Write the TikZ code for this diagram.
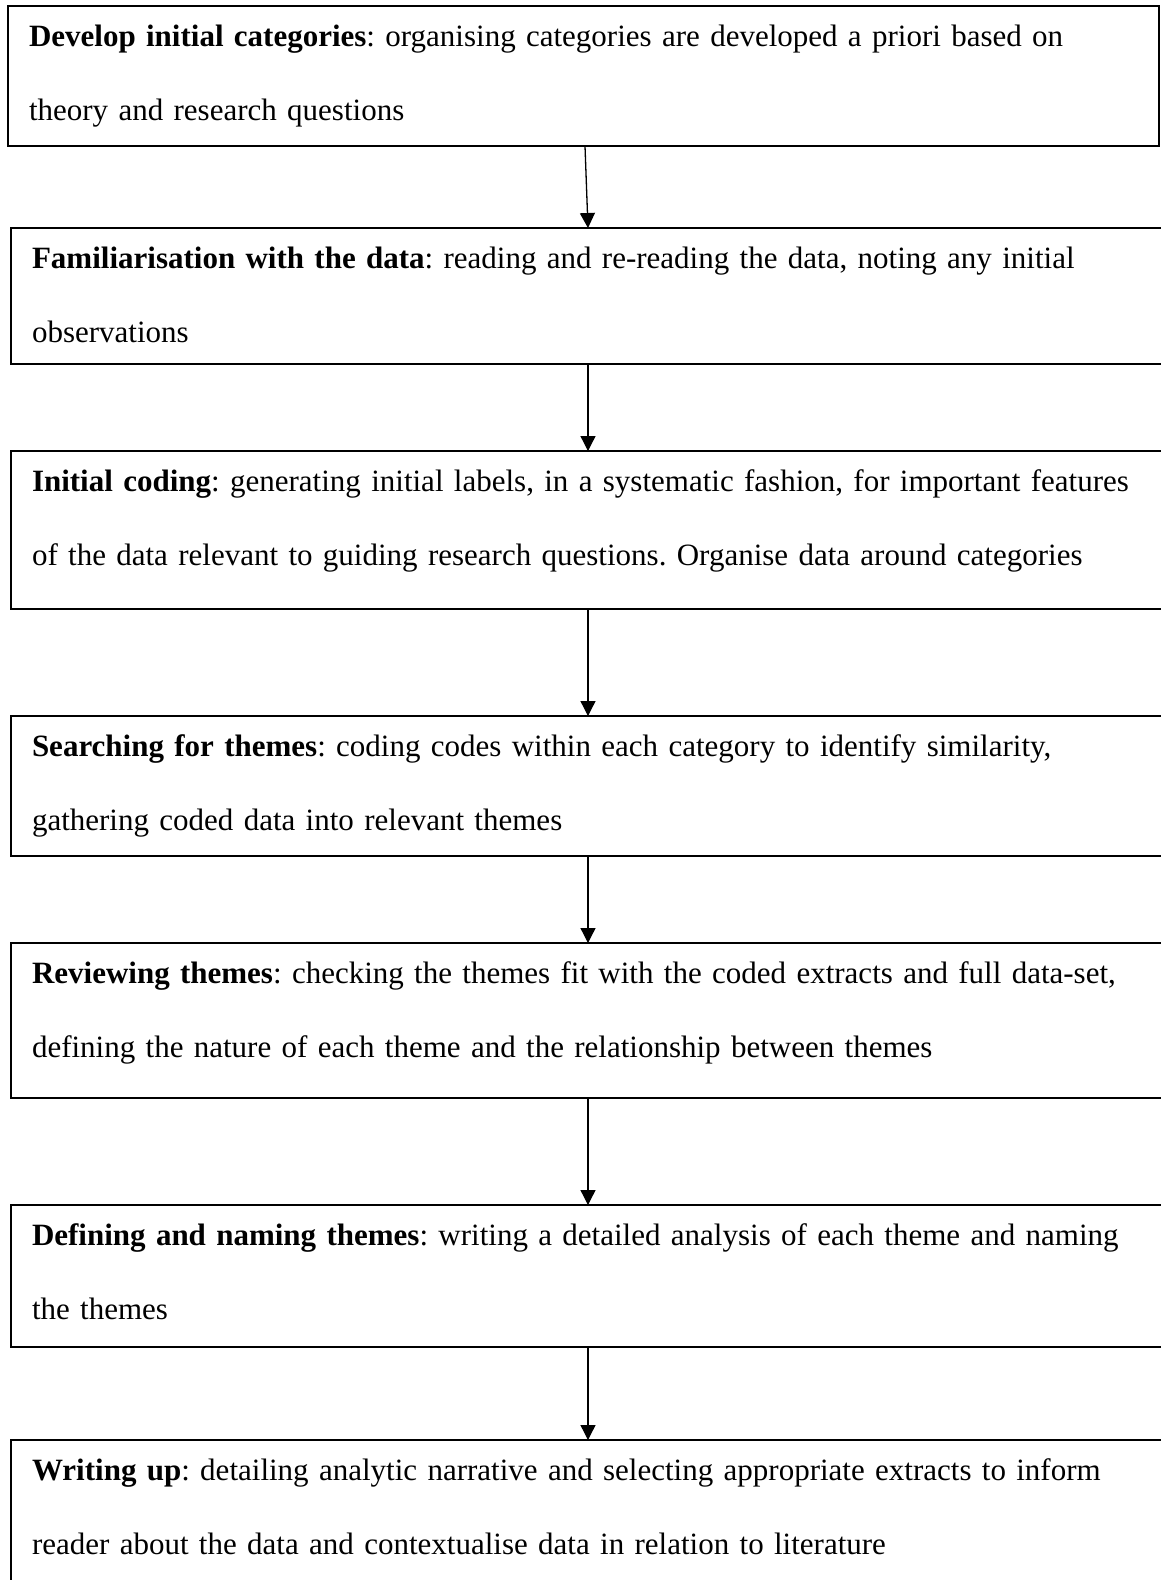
\documentclass[tikz,border=0pt]{standalone}
\usepackage{fontspec}
\setmainfont{Liberation Serif}
\usetikzlibrary{arrows.meta}
\tikzset{
  box/.style={draw=black, line width=2pt, rectangle, inner sep=0pt, outer sep=0pt, anchor=north west},
  txt/.style={inner sep=0pt, outer sep=0pt, anchor=base west, text width=1300pt, align=left,
              font=\fontsize{31}{74}\selectfont\frenchspacing},
  arr/.style={draw=black, line width=1.3pt, -{Triangle[width=15pt,length=15pt]}}
}
\begin{document}
\begin{tikzpicture}[x=1pt,y=-1pt]
\useasboundingbox (0,0) rectangle (1161,1580);
\fill[white] (0,0) rectangle (1161,1580);
\clip (0,0) rectangle (1161,1580);
% boxes
\node[box, minimum width=1151pt, minimum height=140pt] (b1) at (8,6) {};
\node[box, minimum width=1170pt, minimum height=136pt] (b2) at (11,228) {};
\node[box, minimum width=1170pt, minimum height=158pt] (b3) at (11,451) {};
\node[box, minimum width=1170pt, minimum height=140pt] (b4) at (11,716) {};
\node[box, minimum width=1170pt, minimum height=155pt] (b5) at (11,943) {};
\node[box, minimum width=1170pt, minimum height=142pt] (b6) at (11,1205) {};
\node[box, minimum width=1170pt, minimum height=200pt] (b7) at (11,1440) {};
% texts
\node[txt] (t1) at (29,46) {\textbf{Develop initial categories}: organising categories are developed a priori based on\\theory and research questions};
\node[txt] (t2) at (32,268) {\textbf{Familiarisation with the data}: reading and re-reading the data, noting any initial\\observations};
\node[txt] (t3) at (32,491) {\textbf{Initial coding}: generating initial labels, in a systematic fashion, for important features\\of the data relevant to guiding research questions. Organise data around categories};
\node[txt] (t4) at (32,756) {\textbf{Searching for themes}: coding codes within each category to identify similarity,\\gathering coded data into relevant themes};
\node[txt] (t5) at (32,983) {\textbf{Reviewing themes}: checking the themes fit with the coded extracts and full data-set,\\defining the nature of each theme and the relationship between themes};
\node[txt] (t6) at (32,1245) {\textbf{Defining and naming themes}: writing a detailed analysis of each theme and naming\\the themes};
\node[txt] (t7) at (32,1480) {\textbf{Writing up}: detailing analytic narrative and selecting appropriate extracts to inform\\reader about the data and contextualise data in relation to literature};
% arrows
\draw[arr] ([xshift=577pt]b1.south west) -- ([xshift=577pt]b2.north west);
\draw[arr] ([xshift=577pt]b2.south west) -- ([xshift=577pt]b3.north west);
\draw[arr] ([xshift=577pt]b3.south west) -- ([xshift=577pt]b4.north west);
\draw[arr] ([xshift=577pt]b4.south west) -- ([xshift=577pt]b5.north west);
\draw[arr] ([xshift=577pt]b5.south west) -- ([xshift=577pt]b6.north west);
\draw[arr] ([xshift=577pt]b6.south west) -- ([xshift=577pt]b7.north west);
\end{tikzpicture}
\end{document}
